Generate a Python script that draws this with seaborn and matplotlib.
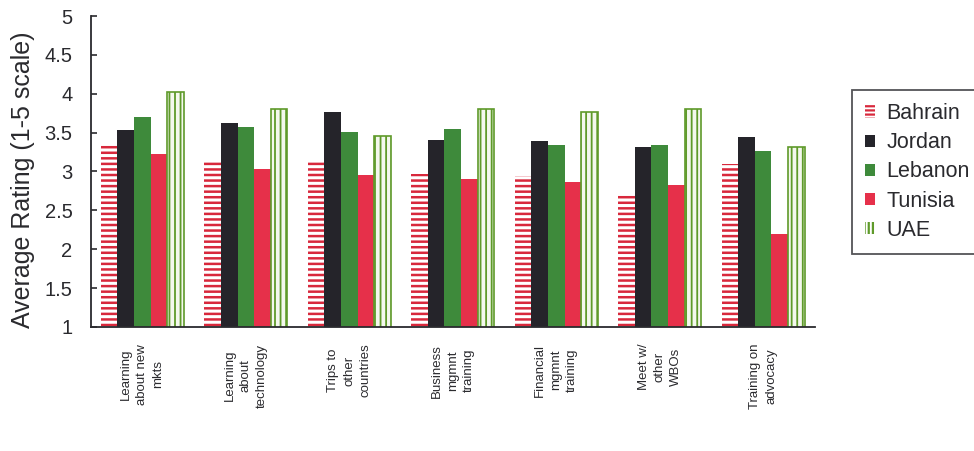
import numpy as np
import pandas as pd
import seaborn as sns
import matplotlib
matplotlib.use("Agg")
import matplotlib.pyplot as plt
import matplotlib.patches as mpatches
from matplotlib.ticker import FormatStrFormatter

activities = ["Learning\nabout new\nmkts", "Learning\nabout\ntechnology",
              "Trips to\nother\ncountries", "Business\nmgmnt\ntraining",
              "Financial\nmgmnt\ntraining", "Meet w/\nother\nWBOs",
              "Training on\nadvocacy"]
countries = ["Bahrain", "Jordan", "Lebanon", "Tunisia", "UAE"]

bahrain = [3.36, 3.12, 3.13, 2.97, 2.94, 2.70, 3.10]
jordan = [3.53, 3.63, 3.76, 3.40, 3.39, 3.31, 3.45]
lebanon = [3.70, 3.57, 3.51, 3.55, 3.34, 3.34, 3.26]
tunisia = [3.22, 3.03, 2.95, 2.90, 2.86, 2.83, 2.20]
uae = [4.02, 3.80, 3.46, 3.81, 3.76, 3.80, 3.32]

yticks = [1, 1.5, 2, 2.5, 3, 3.5, 4, 4.5, 5]

series = {"Bahrain": bahrain, "Jordan": jordan, "Lebanon": lebanon,
          "Tunisia": tunisia, "UAE": uae}
rows = []
for c in countries:
    for a, v in zip(activities, series[c]):
        rows.append({"activity": a, "country": c, "rating": v})
df = pd.DataFrame(rows)

sns.set_theme(style="white")
plt.rcParams["font.family"] = ["Liberation Sans", "DejaVu Sans"]
plt.rcParams["hatch.linewidth"] = 1.6

TXT = "#2a2a2e"
face = {"Bahrain": "white", "Jordan": "#25242a", "Lebanon": "#3e8a3b",
        "Tunisia": "#e6304a", "UAE": "#f4f8ee"}
edge = {"Bahrain": "#d8283c", "Jordan": "#25242a", "Lebanon": "#3e8a3b",
        "Tunisia": "#e6304a", "UAE": "#5f9a2a"}
hatch = {"Bahrain": "---", "Jordan": None, "Lebanon": None,
         "Tunisia": None, "UAE": "|||"}
leg_hatch = {"Bahrain": "----", "Jordan": None, "Lebanon": None,
             "Tunisia": None, "UAE": "||||"}
hlw = {"Bahrain": 1.8, "UAE": 1.3}
lw = {"Bahrain": 0, "Jordan": 0, "Lebanon": 0, "Tunisia": 0, "UAE": 1.2}

fig = plt.figure(figsize=(9.74, 4.51), dpi=100)
ax = fig.add_axes([0.093, 0.275, 0.7437, 0.6895])

sns.barplot(data=df, x="activity", y="rating", hue="country",
            hue_order=countries, order=activities, palette=face,
            saturation=1, width=0.8, ax=ax, legend=False, errorbar=None)

for cont, c in zip(ax.containers, countries):
    for p in cont.patches:
        p.set_facecolor(face[c])
        p.set_edgecolor(edge[c])
        p.set_linewidth(lw[c])
        if hatch[c]:
            p.set_hatch(hatch[c])
            if hasattr(p, "set_hatch_linewidth"):
                p.set_hatch_linewidth(hlw[c])

ax.set_ylim(1, 5)
ax.set_xlim(-0.5, len(activities) - 0.5)
ax.set_yticks(yticks)
ax.yaxis.set_major_formatter(FormatStrFormatter("%g"))
ax.set_xlabel("")
ax.set_ylabel("Average Rating (1-5 scale)", fontsize=18, color=TXT)
ax.yaxis.set_label_coords(-0.0933, 0.473)
ax.yaxis.label.set_va("center")

for s in ["top", "right"]:
    ax.spines[s].set_visible(False)
for s in ["left", "bottom"]:
    ax.spines[s].set_color(TXT)
    ax.spines[s].set_linewidth(1.3)

ax.tick_params(axis="y", direction="in", length=4, width=1.2, left=True,
               labelsize=14.5, labelcolor=TXT, pad=13, color=TXT)
ax.tick_params(axis="x", length=0, pad=12)
for lab in ax.get_xticklabels():
    lab.set_rotation(90)
    lab.set_fontsize(9.5)
    lab.set_color(TXT)
    lab.set_multialignment("center")
    lab.set_linespacing(1.45)
    lab.set_va("top")
    lab.set_ha("center")

handles = []
for c in countries:
    h = mpatches.Patch(facecolor="white" if leg_hatch[c] else face[c],
                       edgecolor=edge[c], linewidth=0,
                       hatch=leg_hatch[c], label=c)
    if leg_hatch[c] and hasattr(h, "set_hatch_linewidth"):
        h.set_hatch_linewidth(1.3)
    handles.append(h)

leg = fig.legend(handles=handles, loc="upper left",
                 bbox_to_anchor=(0.8745, 0.80), fontsize=15.5,
                 frameon=True, fancybox=False, edgecolor=TXT,
                 handlelength=0.5, handleheight=0.5, handletextpad=0.5,
                 labelspacing=0.38, borderpad=0.6, borderaxespad=0)
leg.get_frame().set_linewidth(1.3)
for t in leg.get_texts():
    t.set_color(TXT)

fig.savefig("out.png", dpi=100, facecolor="white")
